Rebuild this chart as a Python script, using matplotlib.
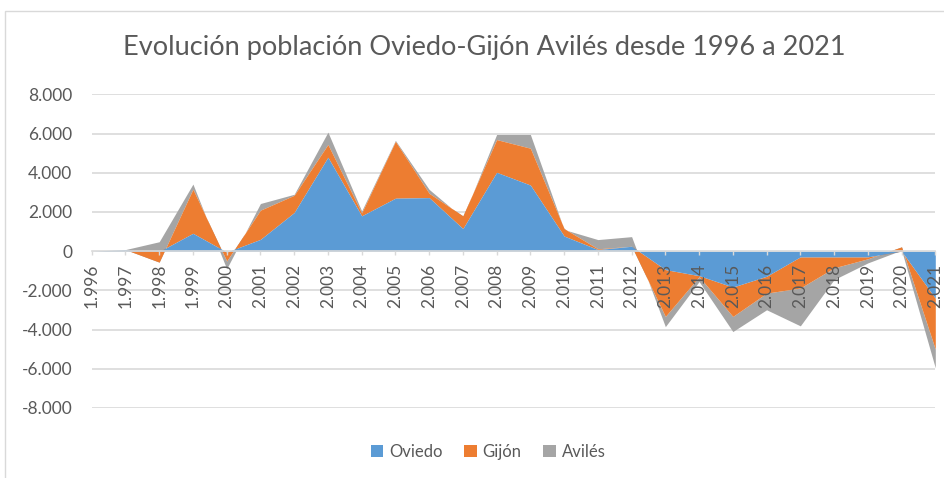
import matplotlib
matplotlib.use("Agg")
import matplotlib.pyplot as plt
from matplotlib.patches import Rectangle, Patch
import numpy as np

# data (yearly change, stacked)
years = list(range(1996, 2022))
oviedo = [0, 80, -20, 910, -50, 600, 1970, 4790, 1800, 2700, 2730, 1150, 4020,
          3370, 770, 80, 250, -940, -1250, -1830, -1280, -290, -290, -290, 0, -2400]
gijon = [0, 0, -540, 2250, -450, 1490, 880, 650, 150, 2900, 220, 650, 1670,
         1880, 380, 40, 0, -2390, -50, -1500, -860, -1590, -560, -100, 220, -2600]
aviles = [0, 0, 1040, 260, -400, 340, 50, 630, 100, 50, 200, -100, 260,
          700, -50, 470, 490, -520, -250, -770, -850, -1930, -600, -210, -170, -950]
series_names = ["Oviedo", "Gijón", "Avilés"]
xlabels = ["%d.%03d" % (y // 1000, y % 1000) for y in years]
yticks = list(range(-8000, 8001, 2000))

colors = ["#5B9BD5", "#ED7D31", "#A5A5A5"]
txt = "#595959"
grid_c = "#D9D9D9"
plt.rcParams["font.family"] = ["Lato", "DejaVu Sans"]

fig = plt.figure(figsize=(9.44, 4.78), dpi=100)
ax = fig.add_axes([91.7 / 944, 1 - 408 / 478, (935.3 - 91.7) / 944, (408 - 94.3) / 478])

x = np.array(years)
c1 = np.array(oviedo)
c2 = c1 + np.array(gijon)
c3 = c2 + np.array(aviles)

# excel paints the last series first
ax.fill_between(x, c2, c3, color=colors[2], lw=0, zorder=1)
ax.fill_between(x, c1, c2, color=colors[1], lw=0, zorder=1.1)
ax.fill_between(x, 0, c1, color=colors[0], lw=0, zorder=1.2)

for v in yticks:
    if v != 0:
        ax.axhline(v, color=grid_c, lw=1.2, zorder=0.5)

for s in ["top", "right", "left"]:
    ax.spines[s].set_visible(False)
ax.spines["bottom"].set_position(("data", 0))
ax.spines["bottom"].set_color(grid_c)
ax.spines["bottom"].set_linewidth(1.2)
ax.set_axisbelow(False)
ax.patch.set_visible(False)

ax.set_xlim(1996, 2021)
ax.set_ylim(-8000, 8000)
ax.set_yticks(yticks)
ax.set_yticklabels([("{:,}".format(v)).replace(",", ".") for v in yticks],
                   fontsize=12.5, color=txt)
ax.tick_params(axis="y", length=0, pad=14)

ax.set_xticks(years)
ax.set_xticklabels(xlabels, fontsize=12.5, color=txt)
ax.tick_params(axis="x", length=3, width=1, color=grid_c, pad=6, labelrotation=90)

fig.text(484 / 944, 1 - 48 / 478, "Evolución población Oviedo-Gijón Avilés desde 1996 a 2021",
         ha="center", va="center", fontsize=19.5, color=txt)

handles = [Patch(facecolor=c, edgecolor="none") for c in colors]
fig.legend(handles, series_names, loc="center", bbox_to_anchor=(488 / 944, 1 - 452 / 478),
           ncol=3, frameon=False, fontsize=12, handlelength=0.75, handleheight=0.75,
           handletextpad=0.35, columnspacing=1.3, labelcolor=txt)

fig.patches.append(Rectangle((5 / 944, -0.1), 1.2, 1.1 - 11 / 478,
                             transform=fig.transFigure, fill=False, edgecolor=grid_c, lw=1))

fig.savefig("out.png", dpi=100)
